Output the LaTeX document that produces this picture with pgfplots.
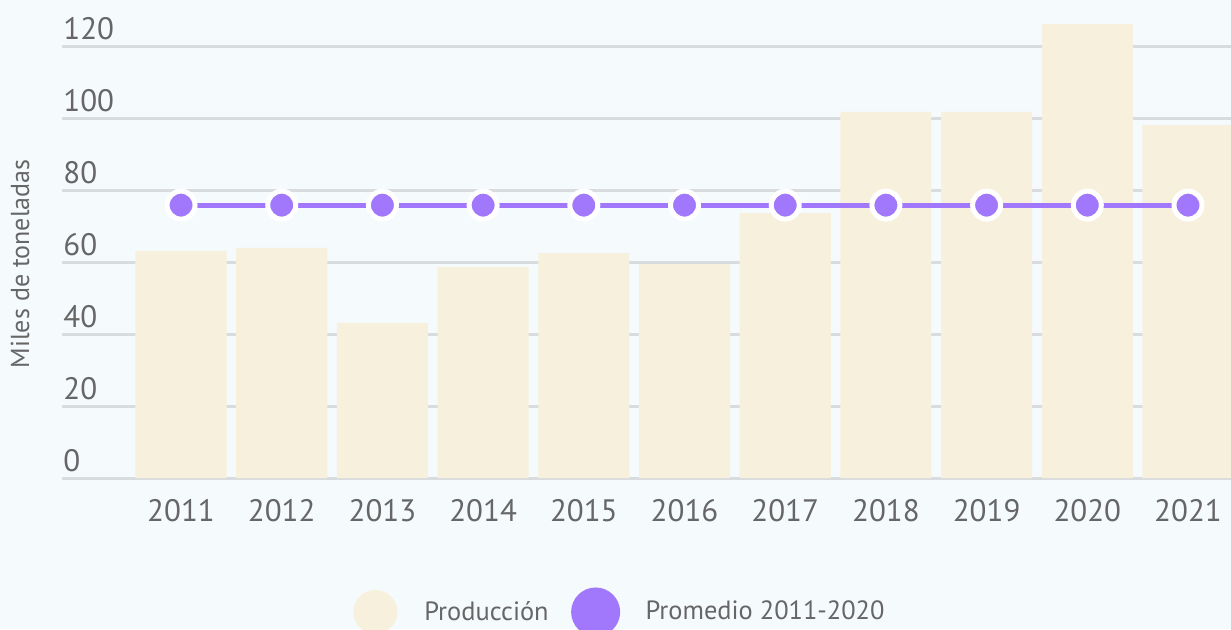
\documentclass[border=0pt]{standalone}
\usepackage{fontspec}
\setmainfont{PT Sans}
\usepackage{pgfplots}
\pgfplotsset{compat=1.18}
\definecolor{bg}{HTML}{F5FAFD}
\definecolor{cream}{HTML}{F7F0DC}
\definecolor{gridgray}{HTML}{D9DCDF}
\definecolor{purp}{HTML}{A178FC}
\definecolor{txt}{HTML}{666666}
\begin{document}
\begin{tikzpicture}
\useasboundingbox (0,0) rectangle (615.5pt,314.5pt);
\fill[bg] (0,0) rectangle (615.5pt,314.5pt);
\begin{axis}[
  at={(31pt,75.5pt)}, anchor=south west,
  scale only axis, width=584.5pt, height=239pt,
  xmin=-1.182, xmax=10.427, ymin=0, ymax=132.78,
  axis line style={draw=none},
  major tick length=0pt,
  ymajorgrids, grid style={color=gridgray, line width=1.5pt},
  ytick={0,20,...,120},
  xtick={0,...,10},
  xticklabels={2011,2012,2013,2014,2015,2016,2017,2018,2019,2020,2021},
  /pgf/number format/assume math mode=true,
  tick label style={font=\fontsize{15.5}{18}\selectfont, text=txt},
  yticklabel style={anchor=south west, inner sep=0pt, xshift=0.5pt, yshift=3pt},
  xticklabel style={yshift=-7pt},
  ylabel={Miles de toneladas},
  ylabel style={at={(rel axis cs:0,0.448)}, anchor=center, yshift=21pt, font=\fontsize{13}{15}\selectfont, text=txt},
  legend columns=2,
  legend style={at={(rel axis cs:0.2224,-0.2803)}, anchor=west, draw=none, fill=none,
    font=\fontsize{13.2}{16}\selectfont, text=txt, nodes={inner sep=0pt}},
]
\addplot[ybar, bar width=0.905, fill=cream, draw=none,
  legend image code/.code={\fill[cream] (0pt,0pt) circle (11pt); \path[draw=none,fill=none] (-23.5pt,-11pt) rectangle (24.5pt,11pt);}]
  coordinates {(0,63.1) (1,63.9) (2,43.1) (3,58.6) (4,62.5) (5,59.4) (6,73.6) (7,101.7) (8,101.7) (9,126.1) (10,98.1)};
\addlegendentry{Producción}
\addplot[color=purp, line width=2.5pt, mark=*, mark size=7pt,
  mark options={draw=white, fill=purp, line width=2.5pt},
  legend image code/.code={\fill[purp] (0pt,0pt) circle (11pt); \path[draw=none,fill=none] (-23.5pt,-11pt) rectangle (25pt,11pt);}]
  coordinates {(0,75.8) (1,75.8) (2,75.8) (3,75.8) (4,75.8) (5,75.8) (6,75.8) (7,75.8) (8,75.8) (9,75.8) (10,75.8)};
\addlegendentry{Promedio 2011-2020}
\end{axis}
\end{tikzpicture}
\end{document}
